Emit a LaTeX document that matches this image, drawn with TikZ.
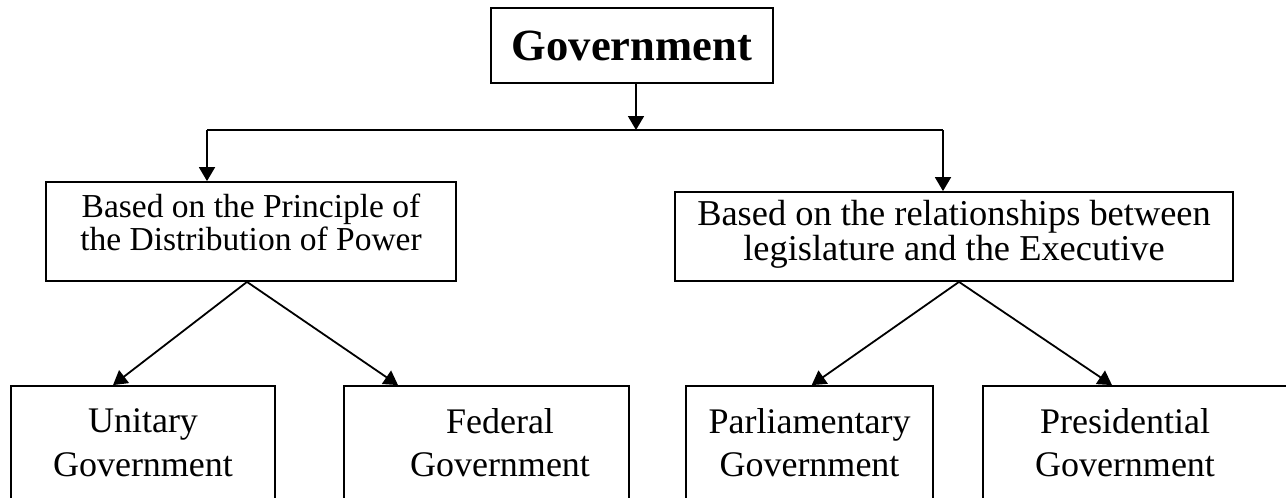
\documentclass[tikz,border=0pt]{standalone}
\usepackage{fontspec}
\setmainfont{Liberation Serif}
\usetikzlibrary{arrows.meta}
\newcommand{\lowstrut}[1]{\rule[-#1]{0pt}{#1}}
\begin{document}
\begin{tikzpicture}[x=0.5pt, y=-0.5pt, line width=0.9pt,
	box/.style={draw, inner sep=2pt, align=center},
	arr/.style={-{Triangle[length=7pt, width=8pt]}},
	leaf/.style={box, minimum height=67pt, font=\fontsize{18}{21.7}\selectfont}]
	\fill[white] (0,0) rectangle (1286,498);
	\useasboundingbox (0,0) rectangle (1286,498);
	\clip (0,0) rectangle (1286,498);
	\node (gov) [box, minimum width=141pt, minimum height=37.5pt, font=\fontsize{22.3}{26}\selectfont\bfseries] at (632,45.5) {Government};
	\node (based1) [box, minimum width=205pt, minimum height=49.5pt, font=\fontsize{16.75}{16.5}\selectfont] at (251,231.5) {Based on the Principle of\\the Distribution of Power\lowstrut{9.35pt}};
	\node (based2) [box, minimum width=279pt, minimum height=44.5pt, font=\fontsize{18.2}{17.5}\selectfont] at (954,236.5) {Based on the relationships between\\legislature and the Executive\lowstrut{6.2pt}};
	\node (unitary) [leaf, minimum width=132pt] at (143,453) {Unitary\\Government\lowstrut{10.5pt}};
	\node (federal) [leaf, minimum width=142.5pt] at (486.5,453) {\hspace*{13.5pt}Federal\\\hspace*{13.5pt}Government\lowstrut{10.5pt}};
	\node (parl) [leaf, minimum width=123.8pt] at (809.5,453) {Parliamentary\\Government\lowstrut{10.5pt}};
	\node (pres) [leaf, minimum width=170pt] at (1153,453) {Presidential\hspace*{28pt}\\Government\hspace*{28pt}\lowstrut{10.5pt}};
	\coordinate (junc) at (636,130);
	\coordinate (hl) at (207,130);
	\coordinate (hr) at (943,130);
	\draw[arr] (gov.south -| junc) -- (junc);
	\draw (hl) -- (hr);
	\draw[arr] (hl) -- (hl |- based1.north);
	\draw[arr] (hr) -- (hr |- based2.north);
	\draw[arr] ([xshift=-2pt]based1.south) -- (113,0 |- unitary.north);
	\draw[arr] ([xshift=-2pt]based1.south) -- (398,0 |- federal.north);
	\draw[arr] ([xshift=2.5pt]based2.south) -- (811.7,0 |- parl.north);
	\draw[arr] ([xshift=2.5pt]based2.south) -- (1112,0 |- pres.north);
\end{tikzpicture}
\end{document}
